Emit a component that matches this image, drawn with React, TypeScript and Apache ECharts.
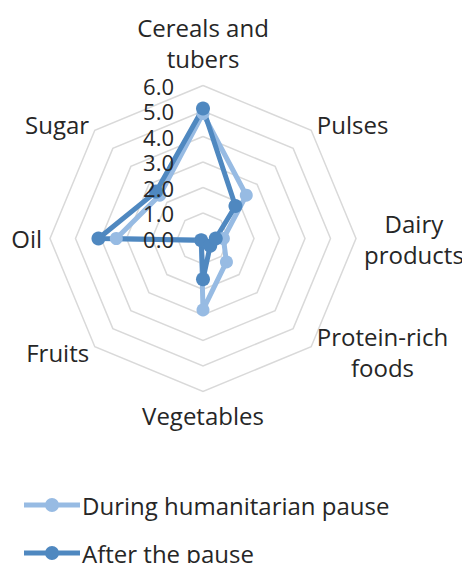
import React, { useEffect, useRef } from "react";
import * as echarts from "echarts";

// Categories in clockwise order starting from the top
const indicators = [
  "Cereals and\ntubers",
  "Pulses",
  "Dairy\nproducts",
  "Protein-rich\nfoods",
  "Vegetables",
  "Fruits",
  "Oil",
  "Sugar",
];
const seriesNames = ["During humanitarian pause", "After the pause"];
const duringValues = [4.9, 2.4, 0.8, 1.3, 2.8, 0.1, 3.4, 2.4];
const afterValues = [5.1, 1.8, 0.5, 0.4, 1.6, 0.1, 4.1, 2.6];
const axisMax = 6;
const axisSteps = 6;

const FONT = "'Open Sans', 'Noto Sans', sans-serif";
const TEXT = "#262626";
const LIGHT = "#97BBE3";
const DARK = "#4F88C0";
const NAME_SIZE = 24;
const TICK_SIZE = 22;

// ECharts radar runs counter-clockwise: reorder so the chart reads clockwise
const order = indicators.map((_, i) => (i === 0 ? 0 : indicators.length - i));
const cw = <T,>(arr: T[]) => order.map((i) => arr[i]);

const LEGEND_ICON =
  "path://M0,4.5 L56,4.5 L56,9.5 L0,9.5 Z M21,7 A7,7 0 1,1 35,7 A7,7 0 1,1 21,7 Z";

export default function App() {
  const ref = useRef<HTMLDivElement>(null);
  useEffect(() => {
    document.body.style.margin = "0";
    if (!ref.current) return;
    const chart = echarts.init(ref.current, undefined, { renderer: "svg" });
    const center = [203, 238.5];
    const radius = 153;
    const nameRich = {
      c: { align: "center", fontSize: NAME_SIZE, color: TEXT, fontFamily: FONT, lineHeight: 31 },
      s: { fontSize: 1, lineHeight: 4 },
    };
    chart.setOption({
      animation: false,
      backgroundColor: "#ffffff",
      textStyle: { fontFamily: FONT },
      legend: {
        orient: "vertical",
        left: 19,
        top: 484,
        height: 120,
        itemWidth: 56,
        itemHeight: 14,
        itemGap: 16,
        textStyle: {
          fontSize: NAME_SIZE,
          lineHeight: 32,
          color: TEXT,
          fontFamily: FONT,
          padding: [0, 0, 0, -3],
        },
        data: seriesNames.map((name) => ({ name, icon: LEGEND_ICON })),
      },
      radar: [
        {
          center,
          radius,
          startAngle: 90,
          shape: "polygon",
          splitNumber: axisSteps,
          z: 0,
          axisName: {
            color: TEXT,
            fontSize: NAME_SIZE,
            fontFamily: FONT,
            lineHeight: 31,
            formatter: (name: string) => {
              const lines = name
                .split("\n")
                .map((l) => `{c|${l}}`)
                .join("\n");
              return name === indicators[0] ? `${lines}\n{s| }` : lines;
            },
            rich: nameRich,
          },
          nameGap: 8,
          axisLine: { show: false },
          axisTick: { show: false },
          splitArea: { show: false },
          splitLine: { lineStyle: { color: "#D9D9D9", width: 1.5 } },
          axisLabel: { show: false },
          indicator: cw(indicators).map((name) => ({ name, min: 0, max: axisMax })),
        },
        {
          center,
          radius,
          startAngle: 90,
          shape: "polygon",
          splitNumber: axisSteps,
          z: 5,
          axisName: { show: false },
          axisLine: { show: false },
          axisTick: { show: false },
          splitArea: { show: false },
          splitLine: { show: false },
          axisLabel: { show: false },
          indicator: cw(indicators).map((name, i) => ({
            name,
            min: 0,
            max: axisMax,
            ...(i === 0
              ? {
                  axisLabel: {
                    show: true,
                    showMinLabel: true,
                    margin: 29,
                    align: "right",
                    fontSize: TICK_SIZE,
                    lineHeight: 22,
                    color: TEXT,
                    fontFamily: FONT,
                    formatter: (v: number) => v.toFixed(1),
                  },
                }
              : {}),
          })),
        },
      ],
      series: [
        {
          type: "radar",
          radarIndex: 0,
          symbol: "circle",
          symbolSize: 13,
          z: 2,
          data: [
            {
              name: seriesNames[0],
              value: cw(duringValues),
              itemStyle: { color: LIGHT },
              lineStyle: { color: LIGHT, width: 5 },
              symbolSize: 13,
            },
            {
              name: seriesNames[1],
              value: cw(afterValues),
              itemStyle: { color: DARK },
              lineStyle: { color: DARK, width: 5 },
              symbolSize: 14,
            },
          ],
        },
      ],
    });
    return () => chart.dispose();
  }, []);
  return <div ref={ref} style={{ width: 462, height: 563 }} />;
}
